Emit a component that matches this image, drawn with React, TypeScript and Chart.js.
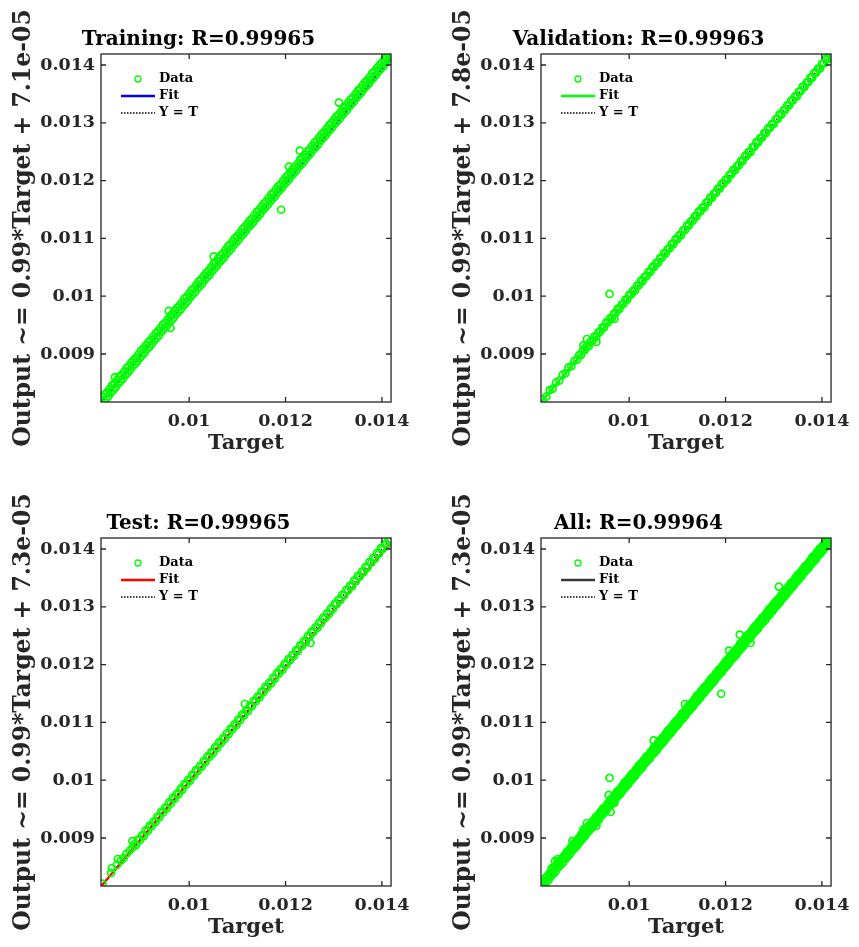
import React, { useEffect, useRef } from "react";
import { Chart, registerables } from "chart.js";

Chart.register(...registerables);

// ---------- data (Target, Output) ----------
const trainPoints: number[][] = [
  [0.0082, 0.008248], [0.008225, 0.008181], [0.00825, 0.008302], [0.008275, 0.008225], [0.0083, 0.00834], [0.008325, 0.008269], [0.00835, 0.008396], [0.008375, 0.008333],
  [0.0084, 0.008458], [0.008425, 0.008377], [0.00845, 0.008494], [0.008475, 0.008423], [0.0085, 0.00855], [0.008525, 0.008485], [0.00855, 0.008604], [0.008575, 0.008529],
  [0.0086, 0.00864], [0.008625, 0.008573], [0.00865, 0.008696], [0.008675, 0.008633], [0.0087, 0.008758], [0.008725, 0.008677], [0.00875, 0.008794], [0.008775, 0.008723],
  [0.0088, 0.00885], [0.008825, 0.008785], [0.00885, 0.008904], [0.008875, 0.008829], [0.0089, 0.00894], [0.008925, 0.008873], [0.00895, 0.008996], [0.008975, 0.008933],
  [0.009, 0.009058], [0.009025, 0.008977], [0.00905, 0.009094], [0.009075, 0.009023], [0.0091, 0.00915], [0.009125, 0.009085], [0.00915, 0.009204], [0.009175, 0.009129],
  [0.0092, 0.00924], [0.009225, 0.009173], [0.00925, 0.009296], [0.009275, 0.009233], [0.0093, 0.009358], [0.009325, 0.009277], [0.00935, 0.009394], [0.009375, 0.009323],
  [0.0094, 0.00945], [0.009425, 0.009385], [0.00945, 0.009504], [0.009475, 0.009429], [0.0095, 0.00954], [0.009525, 0.009473], [0.00955, 0.009596], [0.009575, 0.009533],
  [0.0096, 0.009658], [0.009625, 0.009577], [0.00965, 0.009694], [0.009675, 0.009623], [0.0097, 0.00975], [0.009725, 0.009685], [0.00975, 0.009804], [0.009775, 0.009729],
  [0.0098, 0.00984], [0.009825, 0.009773], [0.00985, 0.009896], [0.009875, 0.009833], [0.0099, 0.009958], [0.009925, 0.009877], [0.00995, 0.009994], [0.009975, 0.009923],
  [0.01, 0.01005], [0.010025, 0.009985], [0.01005, 0.010104], [0.010075, 0.010029], [0.0101, 0.01014], [0.010125, 0.010073], [0.01015, 0.010196], [0.010175, 0.010133],
  [0.0102, 0.010258], [0.010225, 0.010177], [0.01025, 0.010294], [0.010275, 0.010223], [0.0103, 0.01035], [0.010325, 0.010285], [0.01035, 0.010404], [0.010375, 0.010329],
  [0.0104, 0.01044], [0.010425, 0.010373], [0.01045, 0.010496], [0.010475, 0.010433], [0.0105, 0.010558], [0.010525, 0.010477], [0.01055, 0.010594], [0.010575, 0.010523],
  [0.0106, 0.01065], [0.010625, 0.010585], [0.01065, 0.010704], [0.010675, 0.010629], [0.0107, 0.01074], [0.010725, 0.010673], [0.01075, 0.010796], [0.010775, 0.010733],
  [0.0108, 0.010858], [0.010825, 0.010777], [0.01085, 0.010894], [0.010875, 0.010823], [0.0109, 0.01095], [0.010925, 0.010885], [0.01095, 0.011004], [0.010975, 0.010929],
  [0.011, 0.01104], [0.011025, 0.010973], [0.01105, 0.011096], [0.011075, 0.011033], [0.0111, 0.011158], [0.011125, 0.011077], [0.01115, 0.011194], [0.011175, 0.011123],
  [0.0112, 0.01125], [0.011225, 0.011185], [0.01125, 0.011304], [0.011275, 0.011229], [0.0113, 0.01134], [0.011325, 0.011273], [0.01135, 0.011396], [0.011375, 0.011333],
  [0.0114, 0.011458], [0.011425, 0.011377], [0.01145, 0.011494], [0.011475, 0.011423], [0.0115, 0.01155], [0.011525, 0.011485], [0.01155, 0.011604], [0.011575, 0.011529],
  [0.0116, 0.01164], [0.011625, 0.011573], [0.01165, 0.011696], [0.011675, 0.011633], [0.0117, 0.011758], [0.011725, 0.011677], [0.01175, 0.011794], [0.011775, 0.011723],
  [0.0118, 0.01185], [0.011825, 0.011785], [0.01185, 0.011904], [0.011875, 0.011829], [0.0119, 0.01194], [0.011925, 0.011873], [0.01195, 0.011996], [0.011975, 0.011933],
  [0.012, 0.012058], [0.012025, 0.011977], [0.01205, 0.012094], [0.012075, 0.012023], [0.0121, 0.01215], [0.012125, 0.012085], [0.01215, 0.012204], [0.012175, 0.012129],
  [0.0122, 0.01224], [0.012225, 0.012173], [0.01225, 0.012296], [0.012275, 0.012233], [0.0123, 0.012358], [0.012325, 0.012277], [0.01235, 0.012394], [0.012375, 0.012323],
  [0.0124, 0.01245], [0.012425, 0.012385], [0.01245, 0.012504], [0.012475, 0.012429], [0.0125, 0.01254], [0.012525, 0.012473], [0.01255, 0.012596], [0.012575, 0.012533],
  [0.0126, 0.012658], [0.012625, 0.012577], [0.01265, 0.012694], [0.012675, 0.012623], [0.0127, 0.01275], [0.012725, 0.012685], [0.01275, 0.012804], [0.012775, 0.012729],
  [0.0128, 0.01284], [0.012825, 0.012773], [0.01285, 0.012896], [0.012875, 0.012833], [0.0129, 0.012958], [0.012925, 0.012877], [0.01295, 0.012994], [0.012975, 0.012923],
  [0.013, 0.01305], [0.013025, 0.012985], [0.01305, 0.013104], [0.013075, 0.013029], [0.0131, 0.01314], [0.013125, 0.013073], [0.01315, 0.013196], [0.013175, 0.013133],
  [0.0132, 0.013258], [0.013225, 0.013177], [0.01325, 0.013294], [0.013275, 0.013223], [0.0133, 0.01335], [0.013325, 0.013285], [0.01335, 0.013404], [0.013375, 0.013329],
  [0.0134, 0.01344], [0.013425, 0.013373], [0.01345, 0.013496], [0.013475, 0.013433], [0.0135, 0.013558], [0.013525, 0.013477], [0.01355, 0.013594], [0.013575, 0.013523],
  [0.0136, 0.01365], [0.013625, 0.013585], [0.01365, 0.013704], [0.013675, 0.013629], [0.0137, 0.01374], [0.013725, 0.013673], [0.01375, 0.013796], [0.013775, 0.013733],
  [0.0138, 0.013858], [0.013825, 0.013777], [0.01385, 0.013894], [0.013875, 0.013823], [0.0139, 0.01395], [0.013925, 0.013885], [0.01395, 0.014004], [0.013975, 0.013929],
  [0.014, 0.01404], [0.014025, 0.013973], [0.01405, 0.014096], [0.014075, 0.014033], [0.0141, 0.01414], [0.014125, 0.014085], [0.01415, 0.01418], [0.014175, 0.01412],
  // outliers
  [0.00846, 0.0086], [0.009574, 0.009745], [0.009614, 0.00945], [0.010508, 0.01069], [0.011909, 0.011496],
  [0.012071, 0.012241], [0.012294, 0.012518], [0.013107, 0.01335],
];

const validationPoints: number[][] = [
  [0.0082, 0.008222], [0.00828, 0.008262], [0.00835, 0.008376], [0.00841, 0.008396], [0.00848, 0.008508], [0.00855, 0.008538],
  [0.00862, 0.008642], [0.00868, 0.008668], [0.00874, 0.008768], [0.0088, 0.008788], [0.00886, 0.008884], [0.00892, 0.008902],
  [0.00896, 0.008982], [0.009, 0.008982], [0.00904, 0.009066], [0.00908, 0.009068], [0.00912, 0.009136], [0.00916, 0.009136],
  [0.0092, 0.00922], [0.00924, 0.009226], [0.00928, 0.009306], [0.00932, 0.009302], [0.00936, 0.009376], [0.0094, 0.009386],
  [0.00944, 0.009462], [0.00948, 0.009462], [0.00952, 0.009546], [0.00956, 0.009548], [0.0096, 0.009616], [0.00964, 0.009616],
  [0.00968, 0.0097], [0.00972, 0.009706], [0.00976, 0.009786], [0.0098, 0.009782], [0.00984, 0.009856], [0.00988, 0.009866],
  [0.00992, 0.009942], [0.00996, 0.009942], [0.01, 0.010026], [0.01004, 0.010028], [0.01008, 0.010096], [0.01012, 0.010096],
  [0.01016, 0.01018], [0.0102, 0.010186], [0.01024, 0.010266], [0.01028, 0.010262], [0.01032, 0.010336], [0.01036, 0.010346],
  [0.0104, 0.010422], [0.01044, 0.010422], [0.01048, 0.010506], [0.01052, 0.010508], [0.01056, 0.010576], [0.0106, 0.010576],
  [0.01064, 0.01066], [0.01068, 0.010666], [0.01072, 0.010746], [0.01076, 0.010742], [0.0108, 0.010816], [0.01084, 0.010826],
  [0.01088, 0.010902], [0.01092, 0.010902], [0.01096, 0.010986], [0.011, 0.010988], [0.01104, 0.011056], [0.01108, 0.011056],
  [0.01112, 0.01114], [0.01116, 0.011146], [0.0112, 0.011226], [0.01124, 0.011222], [0.01128, 0.011296], [0.01132, 0.011306],
  [0.01136, 0.011382], [0.0114, 0.011382], [0.01144, 0.011466], [0.01148, 0.011468], [0.01152, 0.011536], [0.01156, 0.011536],
  [0.0116, 0.01162], [0.01164, 0.011626], [0.01168, 0.011706], [0.01172, 0.011702], [0.01176, 0.011776], [0.0118, 0.011786],
  [0.01184, 0.011862], [0.01188, 0.011862], [0.01192, 0.011946], [0.01196, 0.011948], [0.012, 0.012016], [0.01204, 0.012016],
  [0.01208, 0.0121], [0.01212, 0.012106], [0.01216, 0.012186], [0.0122, 0.012182], [0.01224, 0.012256], [0.01228, 0.012266],
  [0.01232, 0.012342], [0.01236, 0.012342], [0.0124, 0.012426], [0.01244, 0.012428], [0.01248, 0.012496], [0.01252, 0.012496],
  [0.01256, 0.01258], [0.0126, 0.012586], [0.01264, 0.012666], [0.01268, 0.012662], [0.01272, 0.012736], [0.01276, 0.012746],
  [0.0128, 0.012822], [0.01284, 0.012822], [0.01288, 0.012906], [0.01292, 0.012908], [0.01296, 0.012976], [0.013, 0.012976],
  [0.01304, 0.01306], [0.01308, 0.013066], [0.01312, 0.013146], [0.01316, 0.013142], [0.0132, 0.013216], [0.01324, 0.013226],
  [0.01328, 0.013302], [0.01332, 0.013302], [0.01336, 0.013386], [0.0134, 0.013388], [0.01344, 0.013456], [0.01348, 0.013456],
  [0.01352, 0.01354], [0.01356, 0.013546], [0.0136, 0.013626], [0.01364, 0.013622], [0.01368, 0.013696], [0.01372, 0.013706],
  [0.01376, 0.013782], [0.0138, 0.013782], [0.01384, 0.013866], [0.01388, 0.013868], [0.01392, 0.013936], [0.01396, 0.013936],
  [0.014, 0.01402], [0.01404, 0.014026], [0.01408, 0.014106], [0.01412, 0.014102], [0.01416, 0.014176], [0.01418, 0.01415],
  // outliers
  [0.009122, 0.00926], [0.009592, 0.01004], [0.009694, 0.009607], [0.00905, 0.00915], [0.00932, 0.00921],
];

const testPoints: number[][] = [
  [0.0082, 0.008212], [0.008396, 0.008481], [0.00838, 0.008396], [0.008518, 0.008637], [0.0085, 0.008534], [0.00858, 0.00861],
  [0.00864, 0.008652], [0.0087, 0.008728], [0.008822, 0.008948], [0.00876, 0.00878], [0.00882, 0.008832],
  [0.00886, 0.008892], [0.0089, 0.008878], [0.00894, 0.008974], [0.00898, 0.008962], [0.00902, 0.009046], [0.00906, 0.009034],
  [0.0091, 0.009132], [0.00914, 0.009118], [0.00918, 0.009214], [0.00922, 0.009202], [0.00926, 0.009286], [0.0093, 0.009274],
  [0.00934, 0.009372], [0.00938, 0.009358], [0.00942, 0.009454], [0.00946, 0.009442], [0.0095, 0.009526], [0.00954, 0.009514],
  [0.00958, 0.009612], [0.00962, 0.009598], [0.00966, 0.009694], [0.0097, 0.009682], [0.00974, 0.009766], [0.00978, 0.009754],
  [0.00982, 0.009852], [0.00986, 0.009838], [0.0099, 0.009934], [0.00994, 0.009922], [0.00998, 0.010006], [0.01002, 0.009994],
  [0.01006, 0.010092], [0.0101, 0.010078], [0.01014, 0.010174], [0.01018, 0.010162], [0.01022, 0.010246], [0.01026, 0.010234],
  [0.0103, 0.010332], [0.01034, 0.010318], [0.01038, 0.010414], [0.01042, 0.010402], [0.01046, 0.010486], [0.0105, 0.010474],
  [0.01054, 0.010572], [0.01058, 0.010558], [0.01062, 0.010654], [0.01066, 0.010642], [0.0107, 0.010726], [0.01074, 0.010714],
  [0.01078, 0.010812], [0.01082, 0.010798], [0.01086, 0.010894], [0.0109, 0.010882], [0.01094, 0.010966], [0.01098, 0.010954],
  [0.01102, 0.011052], [0.01106, 0.011038], [0.0111, 0.011134], [0.01114, 0.011122], [0.01118, 0.011206], [0.01122, 0.011194],
  [0.01126, 0.011292], [0.0113, 0.011278], [0.01134, 0.011374], [0.01138, 0.011362], [0.01142, 0.011446], [0.01146, 0.011434],
  [0.0115, 0.011532], [0.01154, 0.011518], [0.01158, 0.011614], [0.01162, 0.011602], [0.01166, 0.011686], [0.0117, 0.011674],
  [0.01174, 0.011772], [0.01178, 0.011758], [0.01182, 0.011854], [0.01186, 0.011842], [0.0119, 0.011926], [0.01194, 0.011914],
  [0.01198, 0.012012], [0.01202, 0.011998], [0.01206, 0.012094], [0.0121, 0.012082], [0.01214, 0.012166], [0.01218, 0.012154],
  [0.01222, 0.012252], [0.01226, 0.012238], [0.0123, 0.012334], [0.01234, 0.012322], [0.01238, 0.012406], [0.01242, 0.012394],
  [0.01246, 0.012492], [0.0125, 0.012478], [0.01254, 0.012574], [0.01258, 0.012562], [0.01262, 0.012646], [0.01266, 0.012634],
  [0.0127, 0.012732], [0.01274, 0.012718], [0.01278, 0.012814], [0.01282, 0.012802], [0.01286, 0.012886], [0.0129, 0.012874],
  [0.01294, 0.012972], [0.01298, 0.012958], [0.01302, 0.013054], [0.01306, 0.013042], [0.0131, 0.013126], [0.01314, 0.013114],
  [0.01318, 0.013212], [0.01322, 0.013198], [0.01326, 0.013294], [0.0133, 0.013282], [0.01334, 0.013366], [0.01338, 0.013354],
  [0.01342, 0.013452], [0.01346, 0.013438], [0.0135, 0.013534], [0.01354, 0.013522], [0.01358, 0.013606], [0.01362, 0.013594],
  [0.01366, 0.013692], [0.0137, 0.013678], [0.01374, 0.013774], [0.01378, 0.013762], [0.01382, 0.013846], [0.01386, 0.013834],
  [0.0139, 0.013932], [0.01394, 0.013918], [0.01398, 0.014014], [0.01402, 0.014002], [0.01406, 0.014086], [0.0141, 0.014074],
  [0.01414, 0.014162], [0.01418, 0.01415],
  // outliers
  [0.011157, 0.011318], [0.012518, 0.012374],
];

const allPoints: number[][] = [...trainPoints, ...validationPoints, ...testPoints];

const panelTitles = ["Training: R=0.99965", "Validation: R=0.99963", "Test: R=0.99965", "All: R=0.99964"];
const panelYLabels = [
  "Output ~= 0.99*Target + 7.1e-05",
  "Output ~= 0.99*Target + 7.8e-05",
  "Output ~= 0.99*Target + 7.3e-05",
  "Output ~= 0.99*Target + 7.3e-05",
];
const panelData = [trainPoints, validationPoints, testPoints, allPoints];
const fitSlopes = [0.99, 0.99, 0.99, 0.99];
const fitIntercepts = [7.1e-5, 7.8e-5, 7.3e-5, 7.3e-5];
const fitColors = ["#0000ff", "#00ff00", "#ff0000", "#3a3a3a"];
const legendLabels = ["Data", "Fit", "Y = T"];
const xTickValues = [0.01, 0.012, 0.014];
const yTickValues = [0.009, 0.01, 0.011, 0.012, 0.013, 0.014];
const axisMin = 0.00817;
const axisMax = 0.01419;

// ---------- styling / layout ----------
const FONT = '"DejaVu Serif", "Liberation Serif", serif';
const DATA_COLOR = "#00ff00";
const AXIS_COLOR = "#262626";
const CANVAS_W = 419;
const CANVAS_H = 463;
const panelPositions = [
  { left: 0, top: 0 },
  { left: 440, top: 0 },
  { left: 0, top: 484 },
  { left: 440, top: 484 },
];

const boxPlugin = {
  id: "boxTicks",
  afterDatasetsDraw(chart: any) {
    const { ctx, chartArea: a, scales } = chart;
    const L = 5;
    ctx.save();
    ctx.strokeStyle = AXIS_COLOR;
    ctx.lineWidth = 1.3;
    ctx.beginPath();
    for (const t of scales.x.ticks) {
      const px = scales.x.getPixelForValue(t.value);
      ctx.moveTo(px, a.bottom);
      ctx.lineTo(px, a.bottom - L);
      ctx.moveTo(px, a.top);
      ctx.lineTo(px, a.top + L);
    }
    for (const t of scales.y.ticks) {
      const py = scales.y.getPixelForValue(t.value);
      ctx.moveTo(a.left, py);
      ctx.lineTo(a.left + L, py);
      ctx.moveTo(a.right, py);
      ctx.lineTo(a.right - L, py);
    }
    ctx.stroke();
    ctx.strokeRect(a.left, a.top, a.right - a.left, a.bottom - a.top);
    ctx.restore();
  },
};

const legendPlugin = {
  id: "innerLegend",
  afterDraw(chart: any) {
    const { ctx, chartArea: a } = chart;
    const fitColor = chart.data.datasets[1].borderColor;
    const x0 = a.left;
    const y0 = a.top;
    ctx.save();
    ctx.strokeStyle = DATA_COLOR;
    ctx.lineWidth = 1.3;
    ctx.beginPath();
    ctx.arc(x0 + 37, y0 + 25, 3, 0, Math.PI * 2);
    ctx.stroke();
    ctx.strokeStyle = fitColor;
    ctx.lineWidth = 2.4;
    ctx.beginPath();
    ctx.moveTo(x0 + 20, y0 + 42);
    ctx.lineTo(x0 + 54, y0 + 42);
    ctx.stroke();
    ctx.strokeStyle = "#000000";
    ctx.lineWidth = 1.3;
    ctx.setLineDash([1.5, 1.5]);
    ctx.beginPath();
    ctx.moveTo(x0 + 20, y0 + 59);
    ctx.lineTo(x0 + 54, y0 + 59);
    ctx.stroke();
    ctx.setLineDash([]);
    ctx.fillStyle = "#000000";
    ctx.font = `bold 13px ${FONT}`;
    ctx.textAlign = "left";
    ctx.textBaseline = "middle";
    ctx.fillText(legendLabels[0], x0 + 58, y0 + 25);
    ctx.fillText(legendLabels[1], x0 + 58, y0 + 42);
    ctx.fillText(legendLabels[2], x0 + 58, y0 + 59);
    ctx.restore();
  },
};

function Panel({ index }: { index: number }) {
  const ref = useRef<HTMLCanvasElement | null>(null);

  useEffect(() => {
    if (!ref.current) return;
    const pts = panelData[index];
    const slope = fitSlopes[index];
    const intercept = fitIntercepts[index];
    const tickFont = { family: FONT, size: 17.5, weight: "bold" as const };

    const chart = new Chart(ref.current, {
      type: "scatter",
      data: {
        datasets: [
          {
            label: legendLabels[0],
            data: pts.map((p) => ({ x: p[0], y: p[1] })),
            pointStyle: "circle",
            pointRadius: 3.5,
            pointBorderWidth: 1.7,
            borderColor: DATA_COLOR,
            backgroundColor: "rgba(0,0,0,0)",
            showLine: false,
          },
          {
            label: legendLabels[1],
            data: [
              { x: axisMin, y: slope * axisMin + intercept },
              { x: axisMax, y: slope * axisMax + intercept },
            ],
            showLine: true,
            pointRadius: 0,
            borderColor: fitColors[index],
            borderWidth: 2.2,
          },
          {
            label: legendLabels[2],
            data: [
              { x: axisMin, y: axisMin },
              { x: axisMax, y: axisMax },
            ],
            showLine: true,
            pointRadius: 0,
            borderColor: "#000000",
            borderWidth: 1.2,
            borderDash: [1.5, 2],
          },
        ],
      },
      options: {
        responsive: false,
        maintainAspectRatio: false,
        animation: false,
        events: [],
        layout: { padding: { left: 0, right: 22, top: 0, bottom: 0 } },
        plugins: {
          legend: { display: false },
          tooltip: { enabled: false },
          title: {
            display: true,
            text: panelTitles[index],
            color: "#000000",
            font: { family: FONT, size: 20, weight: "bold" },
            padding: { top: 28, bottom: 2 },
          },
        },
        scales: {
          x: {
            type: "linear",
            min: axisMin,
            max: axisMax,
            afterBuildTicks: (s: any) => {
              s.ticks = xTickValues.map((v) => ({ value: v }));
            },
            afterFit: (s: any) => {
              s.height = 61;
            },
            grid: { display: false, drawTicks: false },
            border: { display: false },
            ticks: {
              autoSkip: false,
              maxRotation: 0,
              padding: 9,
              color: AXIS_COLOR,
              font: tickFont,
              callback: (v: any) => String(v),
            },
            title: {
              display: true,
              text: "Target",
              color: AXIS_COLOR,
              font: { family: FONT, size: 21, weight: "bold" },
              padding: { top: 0, bottom: 7 },
            },
          },
          y: {
            type: "linear",
            min: axisMin,
            max: axisMax,
            afterBuildTicks: (s: any) => {
              s.ticks = yTickValues.map((v) => ({ value: v }));
            },
            afterFit: (s: any) => {
              s.width = 101;
            },
            grid: { display: false, drawTicks: false },
            border: { display: false },
            ticks: {
              autoSkip: false,
              padding: 6,
              color: AXIS_COLOR,
              font: tickFont,
              callback: (v: any) => String(v),
            },
            title: {
              display: true,
              text: panelYLabels[index],
              color: AXIS_COLOR,
              font: { family: FONT, size: 23.5, weight: "bold" },
              padding: { top: 10, bottom: 0 },
            },
          },
        },
      },
      plugins: [boxPlugin, legendPlugin],
    });
    return () => chart.destroy();
  }, [index]);

  const pos = panelPositions[index];
  return (
    <canvas
      ref={ref}
      width={CANVAS_W}
      height={CANVAS_H}
      style={{ position: "absolute", left: pos.left, top: pos.top, width: CANVAS_W, height: CANVAS_H, display: "block" }}
    />
  );
}

export default function App() {
  return (
    <div style={{ position: "absolute", left: 0, top: 0, width: 859, height: 947, background: "#ffffff" }}>
      {[0, 1, 2, 3].map((i) => (
        <Panel key={i} index={i} />
      ))}
    </div>
  );
}
